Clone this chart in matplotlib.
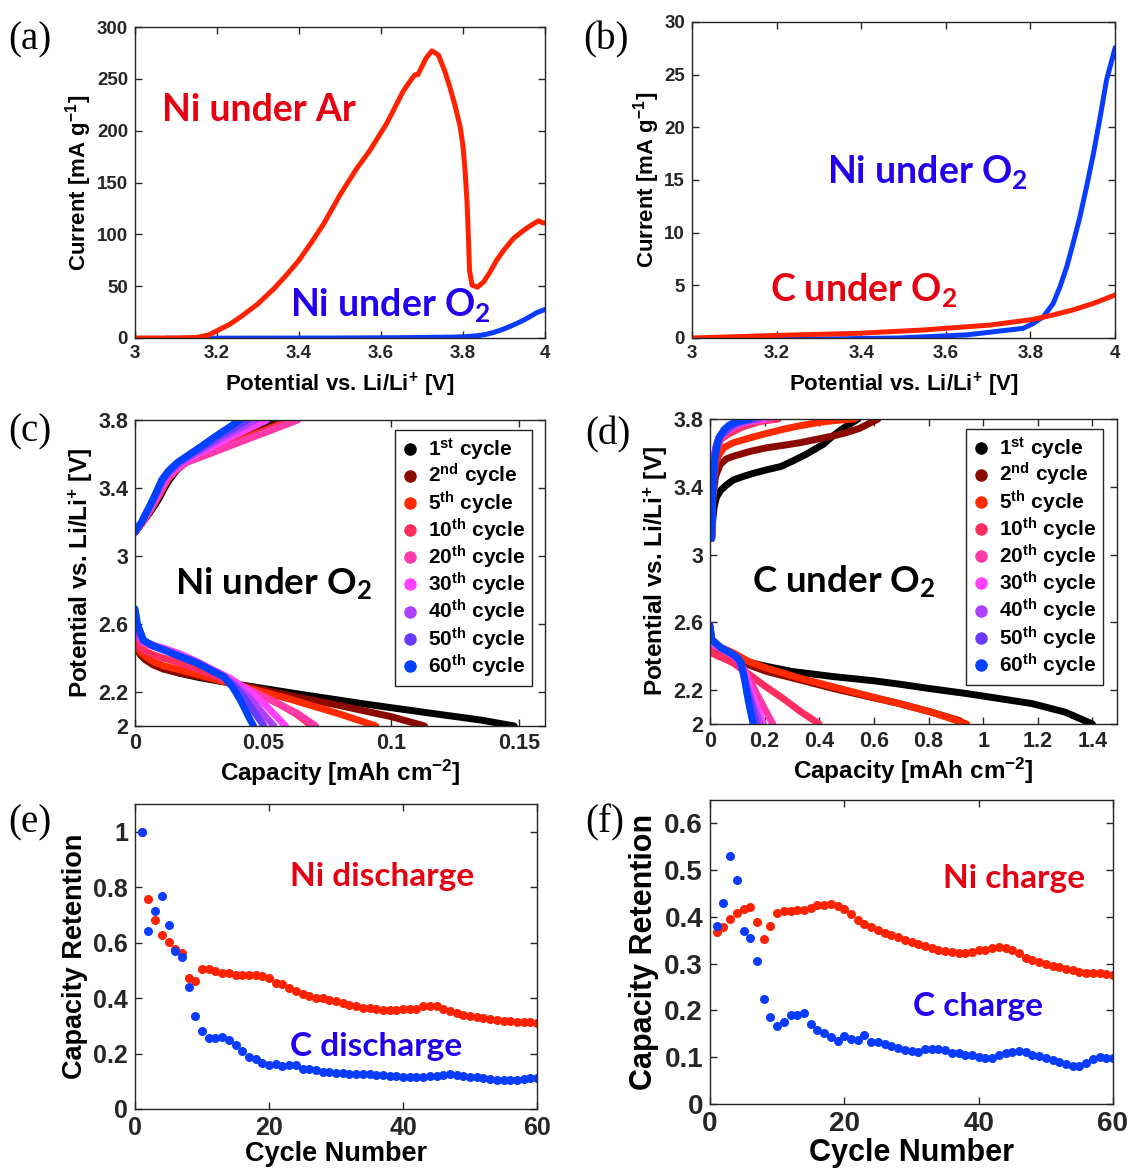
import matplotlib
matplotlib.use("Agg")
import matplotlib.pyplot as plt
from matplotlib.lines import Line2D

plt.rcParams['font.family'] = ['Liberation Sans', 'DejaVu Sans']
plt.rcParams['font.weight'] = 'bold'
plt.rcParams['axes.labelweight'] = 'bold'
plt.rcParams['mathtext.default'] = 'regular'

# ---------------- (a)/(b) linear sweep voltammetry ----------------
ar_v = [3.00, 3.10, 3.15, 3.18, 3.20, 3.23, 3.26, 3.30, 3.34, 3.37, 3.40, 3.43, 3.46,
        3.50, 3.54, 3.573, 3.614, 3.654, 3.675, 3.683, 3.69, 3.70, 3.71, 3.724, 3.74,
        3.755, 3.768, 3.78, 3.793, 3.80, 3.805, 3.81, 3.813, 3.816, 3.822, 3.835, 3.85,
        3.865, 3.882, 3.90, 3.923, 3.945, 3.963, 3.984, 3.995, 4.00]
ar_i = [0.0, 0.0, 0.5, 3, 7, 13, 21, 33, 48, 61, 75, 92, 110,
        138, 163, 181, 207, 238, 250, 254, 254, 262, 270, 277, 273,
        258, 242, 225, 204, 185, 162, 130, 100, 65, 51, 49, 54,
        63, 75, 85, 96, 103, 108, 113, 111, 111]

ni_o2_v = [3.08, 3.30, 3.49, 3.65, 3.783, 3.807, 3.831, 3.854, 3.870, 3.886, 3.901,
           3.917, 3.933, 3.949, 3.965, 3.980, 4.00]
ni_o2_i = [-0.2, -0.1, 0.0, 0.3, 0.92, 1.39, 2.03, 3.29, 4.87, 6.77, 8.99,
           11.5, 14.4, 17.5, 21.0, 24.5, 27.5]

c_o2_v = [3.00, 3.10, 3.232, 3.39, 3.547, 3.705, 3.807, 3.85, 3.90, 3.95, 4.00]
c_o2_i = [0.0, 0.12, 0.28, 0.44, 0.76, 1.23, 1.77, 2.15, 2.66, 3.3, 4.08]

# ---------------- (c)/(d) galvanostatic cycling ----------------
cycle_labels = ['1$^{st}$ cycle', '2$^{nd}$ cycle', '5$^{th}$ cycle', '10$^{th}$ cycle',
                '20$^{th}$ cycle', '30$^{th}$ cycle', '40$^{th}$ cycle', '50$^{th}$ cycle',
                '60$^{th}$ cycle']
cycle_colors = ['#000000', '#8b0a00', '#ff2a00', '#ff2d60', '#ff3aa8', '#ff40ff',
                '#b040ff', '#6a3aff', '#0040ff']

# Ni electrode, charge: capacity reached at each potential level
ni_chg_v = [3.14, 3.17, 3.20, 3.25, 3.30, 3.35, 3.40, 3.45, 3.50, 3.55, 3.60, 3.65, 3.70, 3.75, 3.80]
ni_chg_q = [[0, 0.0015, 0.003, 0.0055, 0.0078, 0.0098, 0.0115, 0.0135, 0.016, 0.0195, 0.0245, 0.031, 0.038, 0.046, 0.054],
            [0, 0.0015, 0.003, 0.0052, 0.0073, 0.0092, 0.011, 0.0128, 0.0155, 0.0195, 0.027, 0.035, 0.043, 0.0515, 0.060],
            [0, 0.0015, 0.003, 0.0052, 0.0072, 0.0091, 0.0109, 0.0127, 0.0155, 0.0195, 0.0275, 0.0355, 0.044, 0.0525, 0.061],
            [0, 0.0015, 0.003, 0.0051, 0.0071, 0.009, 0.0108, 0.0126, 0.0155, 0.0198, 0.028, 0.036, 0.045, 0.0535, 0.062],
            [0, 0.0014, 0.0028, 0.0048, 0.0068, 0.0088, 0.0105, 0.0125, 0.0155, 0.020, 0.0289, 0.0375, 0.0462, 0.0549, 0.0635],
            [0, 0.0013, 0.0027, 0.0046, 0.0065, 0.0083, 0.0099, 0.0117, 0.0145, 0.0185, 0.0245, 0.031, 0.0375, 0.0445, 0.0515],
            [0, 0.0013, 0.0026, 0.0045, 0.0063, 0.008, 0.0096, 0.0112, 0.014, 0.0178, 0.0232, 0.029, 0.0345, 0.041, 0.047],
            [0, 0.0012, 0.0026, 0.0043, 0.0061, 0.0078, 0.0093, 0.0108, 0.0135, 0.0171, 0.0222, 0.0275, 0.0325, 0.0385, 0.044],
            [0, 0.0012, 0.0026, 0.0042, 0.0059, 0.0075, 0.009, 0.0105, 0.013, 0.0165, 0.0214, 0.0263, 0.031, 0.036, 0.041]]

# Ni electrode, discharge
ni_dis_q = [[0, 0.001, 0.002, 0.004, 0.007, 0.011, 0.0176, 0.025, 0.0307, 0.040, 0.063, 0.0894, 0.1155, 0.135, 0.148],
            [0, 0.001, 0.002, 0.004, 0.007, 0.011, 0.0176, 0.025, 0.030, 0.040, 0.060, 0.080, 0.100, 0.113],
            [0, 0.001, 0.002, 0.004, 0.007, 0.011, 0.0176, 0.025, 0.030, 0.040, 0.060, 0.080, 0.094],
            [0, 0.001, 0.002, 0.004, 0.007, 0.011, 0.0176, 0.025, 0.030, 0.040, 0.055, 0.063, 0.069],
            [0, 0.001, 0.0033, 0.007, 0.0111, 0.018, 0.0242, 0.0372, 0.0503, 0.0633, 0.0705],
            [0, 0.001, 0.0033, 0.007, 0.0111, 0.018, 0.0242, 0.0372, 0.045, 0.0503, 0.0587],
            [0, 0.001, 0.0033, 0.007, 0.0111, 0.018, 0.0242, 0.0346, 0.040, 0.045, 0.0542],
            [0, 0.001, 0.0033, 0.007, 0.0111, 0.018, 0.0242, 0.0346, 0.039, 0.043, 0.0503],
            [0, 0.001, 0.0033, 0.007, 0.0111, 0.018, 0.0242, 0.0346, 0.038, 0.0411, 0.045, 0.0463]]
ni_dis_v = [[2.50, 2.46, 2.43, 2.40, 2.37, 2.34, 2.31, 2.285, 2.27, 2.245, 2.19, 2.13, 2.075, 2.035, 2.00],
            [2.50, 2.45, 2.42, 2.39, 2.36, 2.335, 2.31, 2.29, 2.275, 2.245, 2.18, 2.12, 2.055, 2.00],
            [2.55, 2.47, 2.44, 2.41, 2.38, 2.355, 2.33, 2.30, 2.28, 2.24, 2.16, 2.07, 2.00],
            [2.60, 2.50, 2.46, 2.44, 2.42, 2.40, 2.37, 2.33, 2.30, 2.24, 2.14, 2.07, 2.00],
            [2.63, 2.53, 2.486, 2.47, 2.457, 2.42, 2.378, 2.27, 2.173, 2.075, 2.00],
            [2.65, 2.54, 2.496, 2.475, 2.457, 2.42, 2.378, 2.28, 2.20, 2.133, 2.00],
            [2.66, 2.55, 2.50, 2.475, 2.45, 2.41, 2.375, 2.29, 2.23, 2.16, 2.00],
            [2.67, 2.57, 2.50, 2.475, 2.45, 2.41, 2.372, 2.29, 2.23, 2.16, 2.00],
            [2.69, 2.60, 2.506, 2.47, 2.447, 2.405, 2.369, 2.29, 2.23, 2.153, 2.035, 2.00]]

# carbon electrode, charge
c_chg_q = [[0.006, 0.010, 0.015, 0.024, 0.040, 0.060, 0.085, 0.12, 0.16, 0.207, 0.26, 0.30, 0.35, 0.414, 0.45, 0.487, 0.542],
           [0.006, 0.009, 0.012, 0.020, 0.037, 0.060, 0.085, 0.15, 0.207, 0.27, 0.329, 0.39, 0.451, 0.50, 0.548, 0.615],
           [0.006, 0.009, 0.012, 0.020, 0.030, 0.050, 0.085, 0.15, 0.207, 0.27, 0.329, 0.40, 0.451, 0.530],
           [0.006, 0.009, 0.012, 0.018, 0.024, 0.040, 0.061, 0.090, 0.122, 0.183, 0.250],
           [0.006, 0.009, 0.012, 0.018, 0.024, 0.040, 0.061, 0.090, 0.120, 0.170, 0.225],
           [0.006, 0.009, 0.012, 0.018, 0.024, 0.040, 0.055, 0.080, 0.110, 0.150, 0.200],
           [0.006, 0.009, 0.011, 0.016, 0.022, 0.035, 0.050, 0.075, 0.100, 0.140, 0.180],
           [0.006, 0.008, 0.011, 0.015, 0.020, 0.032, 0.045, 0.070, 0.090, 0.125, 0.165],
           [0.006, 0.008, 0.010, 0.014, 0.018, 0.027, 0.037, 0.050, 0.070, 0.100, 0.146]]
c_chg_v = [[3.10, 3.20, 3.28, 3.34, 3.38, 3.41, 3.44, 3.46, 3.48, 3.50, 3.52, 3.55, 3.59, 3.65, 3.70, 3.745, 3.80],
           [3.095, 3.25, 3.36, 3.46, 3.53, 3.565, 3.58, 3.61, 3.63, 3.645, 3.66, 3.68, 3.70, 3.72, 3.745, 3.80],
           [3.095, 3.28, 3.42, 3.53, 3.58, 3.63, 3.66, 3.69, 3.715, 3.74, 3.76, 3.78, 3.79, 3.80],
           [3.095, 3.30, 3.46, 3.56, 3.62, 3.68, 3.705, 3.73, 3.755, 3.785, 3.80],
           [3.095, 3.32, 3.48, 3.58, 3.63, 3.69, 3.72, 3.75, 3.77, 3.79, 3.80],
           [3.095, 3.34, 3.50, 3.60, 3.65, 3.71, 3.73, 3.755, 3.775, 3.79, 3.80],
           [3.095, 3.32, 3.48, 3.58, 3.64, 3.70, 3.72, 3.75, 3.77, 3.79, 3.80],
           [3.095, 3.28, 3.44, 3.55, 3.62, 3.69, 3.71, 3.745, 3.77, 3.79, 3.80],
           [3.095, 3.24, 3.36, 3.48, 3.56, 3.65, 3.70, 3.735, 3.765, 3.785, 3.80]]

# carbon electrode, discharge
c_dis_q = [[0, 0.006, 0.02, 0.05, 0.085, 0.14, 0.207, 0.30, 0.45, 0.60, 0.694, 0.80, 0.938, 1.06, 1.18, 1.30, 1.40],
           [0, 0.006, 0.03, 0.085, 0.14, 0.207, 0.33, 0.45, 0.57, 0.694, 0.80, 0.914, 0.93],
           [0, 0.006, 0.03, 0.085, 0.14, 0.207, 0.33, 0.45, 0.57, 0.694, 0.82, 0.94],
           [0, 0.006, 0.03, 0.06, 0.085, 0.115, 0.146, 0.20, 0.268, 0.33, 0.40],
           [0, 0.006, 0.04, 0.085, 0.11, 0.13, 0.155, 0.18, 0.205, 0.23],
           [0, 0.006, 0.04, 0.085, 0.108, 0.125, 0.143, 0.16, 0.178, 0.195],
           [0, 0.006, 0.04, 0.085, 0.106, 0.12, 0.135, 0.15, 0.167, 0.183],
           [0, 0.006, 0.04, 0.085, 0.104, 0.118, 0.131, 0.145, 0.158, 0.170],
           [0, 0.006, 0.04, 0.085, 0.105, 0.115, 0.125, 0.135, 0.146, 0.158]]
c_dis_v = [[2.52, 2.46, 2.43, 2.41, 2.39, 2.365, 2.34, 2.31, 2.28, 2.255, 2.235, 2.21, 2.18, 2.15, 2.12, 2.07, 2.00],
           [2.52, 2.46, 2.42, 2.39, 2.35, 2.31, 2.26, 2.21, 2.165, 2.12, 2.075, 2.02, 2.00],
           [2.58, 2.50, 2.46, 2.42, 2.37, 2.33, 2.27, 2.22, 2.17, 2.12, 2.065, 2.00],
           [2.55, 2.42, 2.40, 2.38, 2.36, 2.325, 2.29, 2.225, 2.15, 2.075, 2.00],
           [2.57, 2.47, 2.44, 2.40, 2.36, 2.31, 2.23, 2.15, 2.075, 2.00],
           [2.57, 2.48, 2.45, 2.41, 2.37, 2.31, 2.23, 2.15, 2.075, 2.00],
           [2.57, 2.49, 2.45, 2.41, 2.37, 2.31, 2.23, 2.15, 2.075, 2.00],
           [2.58, 2.50, 2.45, 2.41, 2.38, 2.32, 2.23, 2.15, 2.075, 2.00],
           [2.58, 2.50, 2.45, 2.41, 2.385, 2.36, 2.28, 2.18, 2.09, 2.00]]

# ---------------- (e)/(f) capacity retention ----------------
cycles = list(range(1, 61))
ni_discharge = [1.0, 0.757, 0.68, 0.629, 0.602, 0.578, 0.563, 0.472, 0.46, 0.505,
                0.505, 0.496, 0.49, 0.49, 0.484, 0.484, 0.484, 0.484, 0.478, 0.472,
                0.454, 0.452, 0.436, 0.426, 0.414, 0.406, 0.40, 0.40, 0.394, 0.388,
                0.382, 0.376, 0.372, 0.366, 0.364, 0.36, 0.358, 0.358, 0.358, 0.361,
                0.361, 0.36, 0.372, 0.372, 0.37, 0.361, 0.352, 0.346, 0.34, 0.334,
                0.331, 0.328, 0.324, 0.322, 0.318, 0.316, 0.313, 0.312, 0.312, 0.31]
c_discharge = [1.0, 0.643, 0.713, 0.77, 0.663, 0.569, 0.548, 0.44, 0.337, 0.28,
               0.255, 0.255, 0.258, 0.249, 0.231, 0.21, 0.189, 0.181, 0.167, 0.159,
               0.163, 0.155, 0.157, 0.159, 0.145, 0.145, 0.139, 0.135, 0.133, 0.129,
               0.129, 0.127, 0.127, 0.127, 0.125, 0.123, 0.123, 0.12, 0.119, 0.117,
               0.117, 0.117, 0.117, 0.119, 0.12, 0.123, 0.125, 0.123, 0.12, 0.117,
               0.114, 0.112, 0.108, 0.105, 0.104, 0.104, 0.106, 0.11, 0.112, 0.112]
ni_charge = [0.368, 0.378, 0.396, 0.409, 0.416, 0.422, 0.389, 0.352, 0.38, 0.409,
             0.412, 0.412, 0.415, 0.415, 0.419, 0.425, 0.425, 0.428, 0.423, 0.416,
             0.406, 0.394, 0.385, 0.378, 0.371, 0.365, 0.361, 0.357, 0.351, 0.346,
             0.343, 0.337, 0.333, 0.33, 0.328, 0.325, 0.323, 0.323, 0.326, 0.329,
             0.33, 0.333, 0.335, 0.333, 0.33, 0.323, 0.313, 0.308, 0.303, 0.299,
             0.295, 0.292, 0.289, 0.286, 0.283, 0.28, 0.28, 0.28, 0.278, 0.276]
c_charge = [0.381, 0.43, 0.53, 0.478, 0.369, 0.356, 0.306, 0.224, 0.187, 0.166,
            0.176, 0.19, 0.19, 0.195, 0.171, 0.158, 0.151, 0.143, 0.134, 0.146,
            0.138, 0.136, 0.147, 0.133, 0.133, 0.129, 0.124, 0.12, 0.115, 0.113,
            0.111, 0.118, 0.118, 0.118, 0.115, 0.109, 0.108, 0.105, 0.104, 0.10,
            0.098, 0.099, 0.104, 0.108, 0.111, 0.113, 0.111, 0.105, 0.102, 0.098,
            0.095, 0.09, 0.085, 0.082, 0.082, 0.087, 0.097, 0.10, 0.099, 0.098]

RED = '#ff2200'
BLUE = '#0a3cff'
TXT_RED = '#e60012'
TXT_BLUE = '#2200ee'
ANNOT = dict(family=['Lato', 'DejaVu Sans'], fontweight='bold')

fig = plt.figure(figsize=(11.3, 11.71), dpi=100)


def frame(rect, tick_size):
    ax = fig.add_axes(rect)
    for s in ax.spines.values():
        s.set_color('#262626')
        s.set_linewidth(1.0)
    ax.tick_params(direction='in', top=True, right=True, length=5, width=1,
                   color='#262626', labelsize=tick_size, pad=5, labelcolor='#262626')
    return ax


def panel_label(x, y, s):
    fig.text(x / 1130, 1 - y / 1171, s, fontsize=28, fontweight='normal',
             family=['Liberation Serif', 'DejaVu Serif'], ha='left', va='center')


# (a)
ax = frame([135 / 1130, 1 - 338 / 1171, 410 / 1130, 311 / 1171], 13.5)
ax.plot(ni_o2_v, ni_o2_i, color=BLUE, lw=3.6, solid_joinstyle='round')
ax.plot(ar_v, ar_i, color=RED, lw=3.6, solid_joinstyle='round')
ax.set_xlim(3, 4)
ax.set_ylim(0, 300)
ax.set_xticks([3, 3.2, 3.4, 3.6, 3.8, 4])
ax.set_xticklabels(['3', '3.2', '3.4', '3.6', '3.8', '4'])
ax.set_yticks(range(0, 301, 50))
ax.set_xlabel('Potential vs. Li/Li$^{+}$ [V]', fontsize=16, labelpad=6)
ax.set_ylabel('Current [mA g$^{-1}$]', fontsize=16, labelpad=2)
ax.text(3.066, 220, 'Ni under Ar', color=TXT_RED, fontsize=27, ha='left', va='center', **ANNOT)
ax.text(3.378, 32, 'Ni under O$_2$', color=TXT_BLUE, fontsize=27, ha='left', va='center', **ANNOT)
panel_label(8, 40, '(a)')

# (b)
ax = frame([692 / 1130, 1 - 338 / 1171, 423 / 1130, 316 / 1171], 13.5)
ax.plot(ni_o2_v, ni_o2_i, color=BLUE, lw=3.6, solid_joinstyle='round')
ax.plot(c_o2_v, c_o2_i, color=RED, lw=3.6, solid_joinstyle='round')
ax.set_xlim(3, 4)
ax.set_ylim(0, 30)
ax.set_xticks([3, 3.2, 3.4, 3.6, 3.8, 4])
ax.set_xticklabels(['3', '3.2', '3.4', '3.6', '3.8', '4'])
ax.set_yticks(range(0, 31, 5))
ax.set_xlabel('Potential vs. Li/Li$^{+}$ [V]', fontsize=16, labelpad=6)
ax.set_ylabel('Current [mA g$^{-1}$]', fontsize=16, labelpad=2)
ax.text(3.319, 15.8, 'Ni under O$_2$', color=TXT_BLUE, fontsize=27, ha='left', va='center', **ANNOT)
ax.text(3.184, 4.56, 'C under O$_2$', color=TXT_RED, fontsize=27, ha='left', va='center', **ANNOT)
panel_label(583, 40, '(b)')


def cycling(rect, chg_q, chg_v, dis_q, dis_v, xlim, xticks, xticklabels, title, tx, lx):
    ax = frame(rect, 15.5)
    for k in range(len(cycle_labels)):
        cv = chg_v if not isinstance(chg_v[0], list) else chg_v[k]
        ax.plot(chg_q[k], cv, color=cycle_colors[k], lw=5, solid_capstyle='round',
                solid_joinstyle='round')
        ax.plot(dis_q[k], dis_v[k], color=cycle_colors[k], lw=5, solid_capstyle='round',
                solid_joinstyle='round')
    ax.set_xlim(*xlim)
    ax.set_ylim(2, 3.8)
    ax.set_yticks([2, 2.2, 2.6, 3, 3.4, 3.8])
    ax.set_yticklabels(['2', '2.2', '2.6', '3', '3.4', '3.8'])
    ax.set_xticks(xticks)
    ax.set_xticklabels(xticklabels)
    ax.set_xlabel('Capacity [mAh cm$^{-2}$]', fontsize=17.5, labelpad=3)
    ax.set_ylabel('Potential vs. Li/Li$^{+}$ [V]', fontsize=17.5, labelpad=2)
    ax.text(tx, 2.84, title, color='black', fontsize=26.5, ha='left', va='center', **ANNOT)
    handles = [Line2D([], [], ls='none', marker='o', ms=8, color=c) for c in cycle_colors]
    leg = ax.legend(handles, cycle_labels, loc='upper right', bbox_to_anchor=lx,
                    fontsize=15, frameon=True, fancybox=False, framealpha=1,
                    edgecolor='#262626', handlelength=0.8, handletextpad=0.5,
                    labelspacing=0.0, borderpad=0.3, borderaxespad=0)
    leg.get_frame().set_linewidth(1.0)
    return ax


# (c)
cycling([135 / 1130, 1 - 726 / 1171, 410 / 1130, 306 / 1171], ni_chg_q, ni_chg_v, ni_dis_q,
        ni_dis_v, (0, 0.16), [0, 0.05, 0.1, 0.15], ['0', '0.05', '0.1', '0.15'],
        'Ni under O$_2$', 0.0157, (0.968, 0.967))
panel_label(8, 432, '(c)')

# (d)
cycling([710 / 1130, 1 - 724 / 1171, 407 / 1130, 305 / 1171], c_chg_q, c_chg_v, c_dis_q,
        c_dis_v, (0, 1.49), [0, 0.2, 0.4, 0.6, 0.8, 1, 1.2, 1.4],
        ['0', '0.2', '0.4', '0.6', '0.8', '1', '1.2', '1.4'],
        'C under O$_2$', 0.154, (0.965, 0.967))
panel_label(585, 435, '(d)')


def retention(rect, top, yticks, yticklabels, red_vals, blue_vals, red_txt, blue_txt,
              rpos, bpos, tick_size, label_size):
    ax = frame(rect, tick_size)
    ax.plot(cycles, red_vals, ls='none', marker='o', ms=6.5, color=RED, mec='none')
    ax.plot(cycles, blue_vals, ls='none', marker='o', ms=6.5, color=BLUE, mec='none')
    ax.set_xlim(0, 60)
    ax.set_ylim(0, top)
    ax.set_xticks([0, 20, 40, 60])
    ax.set_yticks(yticks)
    ax.set_yticklabels(yticklabels)
    ax.set_xlabel('Cycle Number', fontsize=label_size, labelpad=1)
    ax.set_ylabel('Capacity Retention', fontsize=label_size, labelpad=4)
    ax.text(*rpos, red_txt, color=TXT_RED, fontsize=24, ha='left', va='center', **ANNOT)
    ax.text(*bpos, blue_txt, color=TXT_BLUE, fontsize=24, ha='left', va='center', **ANNOT)
    return ax


# (e)
retention([135 / 1130, 1 - 1109 / 1171, 402 / 1130, 305 / 1171], 1.1,
          [0, 0.2, 0.4, 0.6, 0.8, 1], ['0', '0.2', '0.4', '0.6', '0.8', '1'],
          ni_discharge, c_discharge, 'Ni discharge', 'C discharge', (23.1, 0.838),
          (23.1, 0.224), 18, 19.5)
panel_label(8, 823, '(e)')

# (f)
retention([710 / 1130, 1 - 1104 / 1171, 403 / 1130, 304 / 1171], 0.65,
          [0, 0.1, 0.2, 0.3, 0.4, 0.5, 0.6], ['0', '0.1', '0.2', '0.3', '0.4', '0.5', '0.6'],
          ni_charge, c_charge, 'Ni charge', 'C charge', (34.7, 0.483), (30.2, 0.209), 20, 22)
panel_label(585, 823, '(f)')

fig.savefig('out.png', dpi=100)
